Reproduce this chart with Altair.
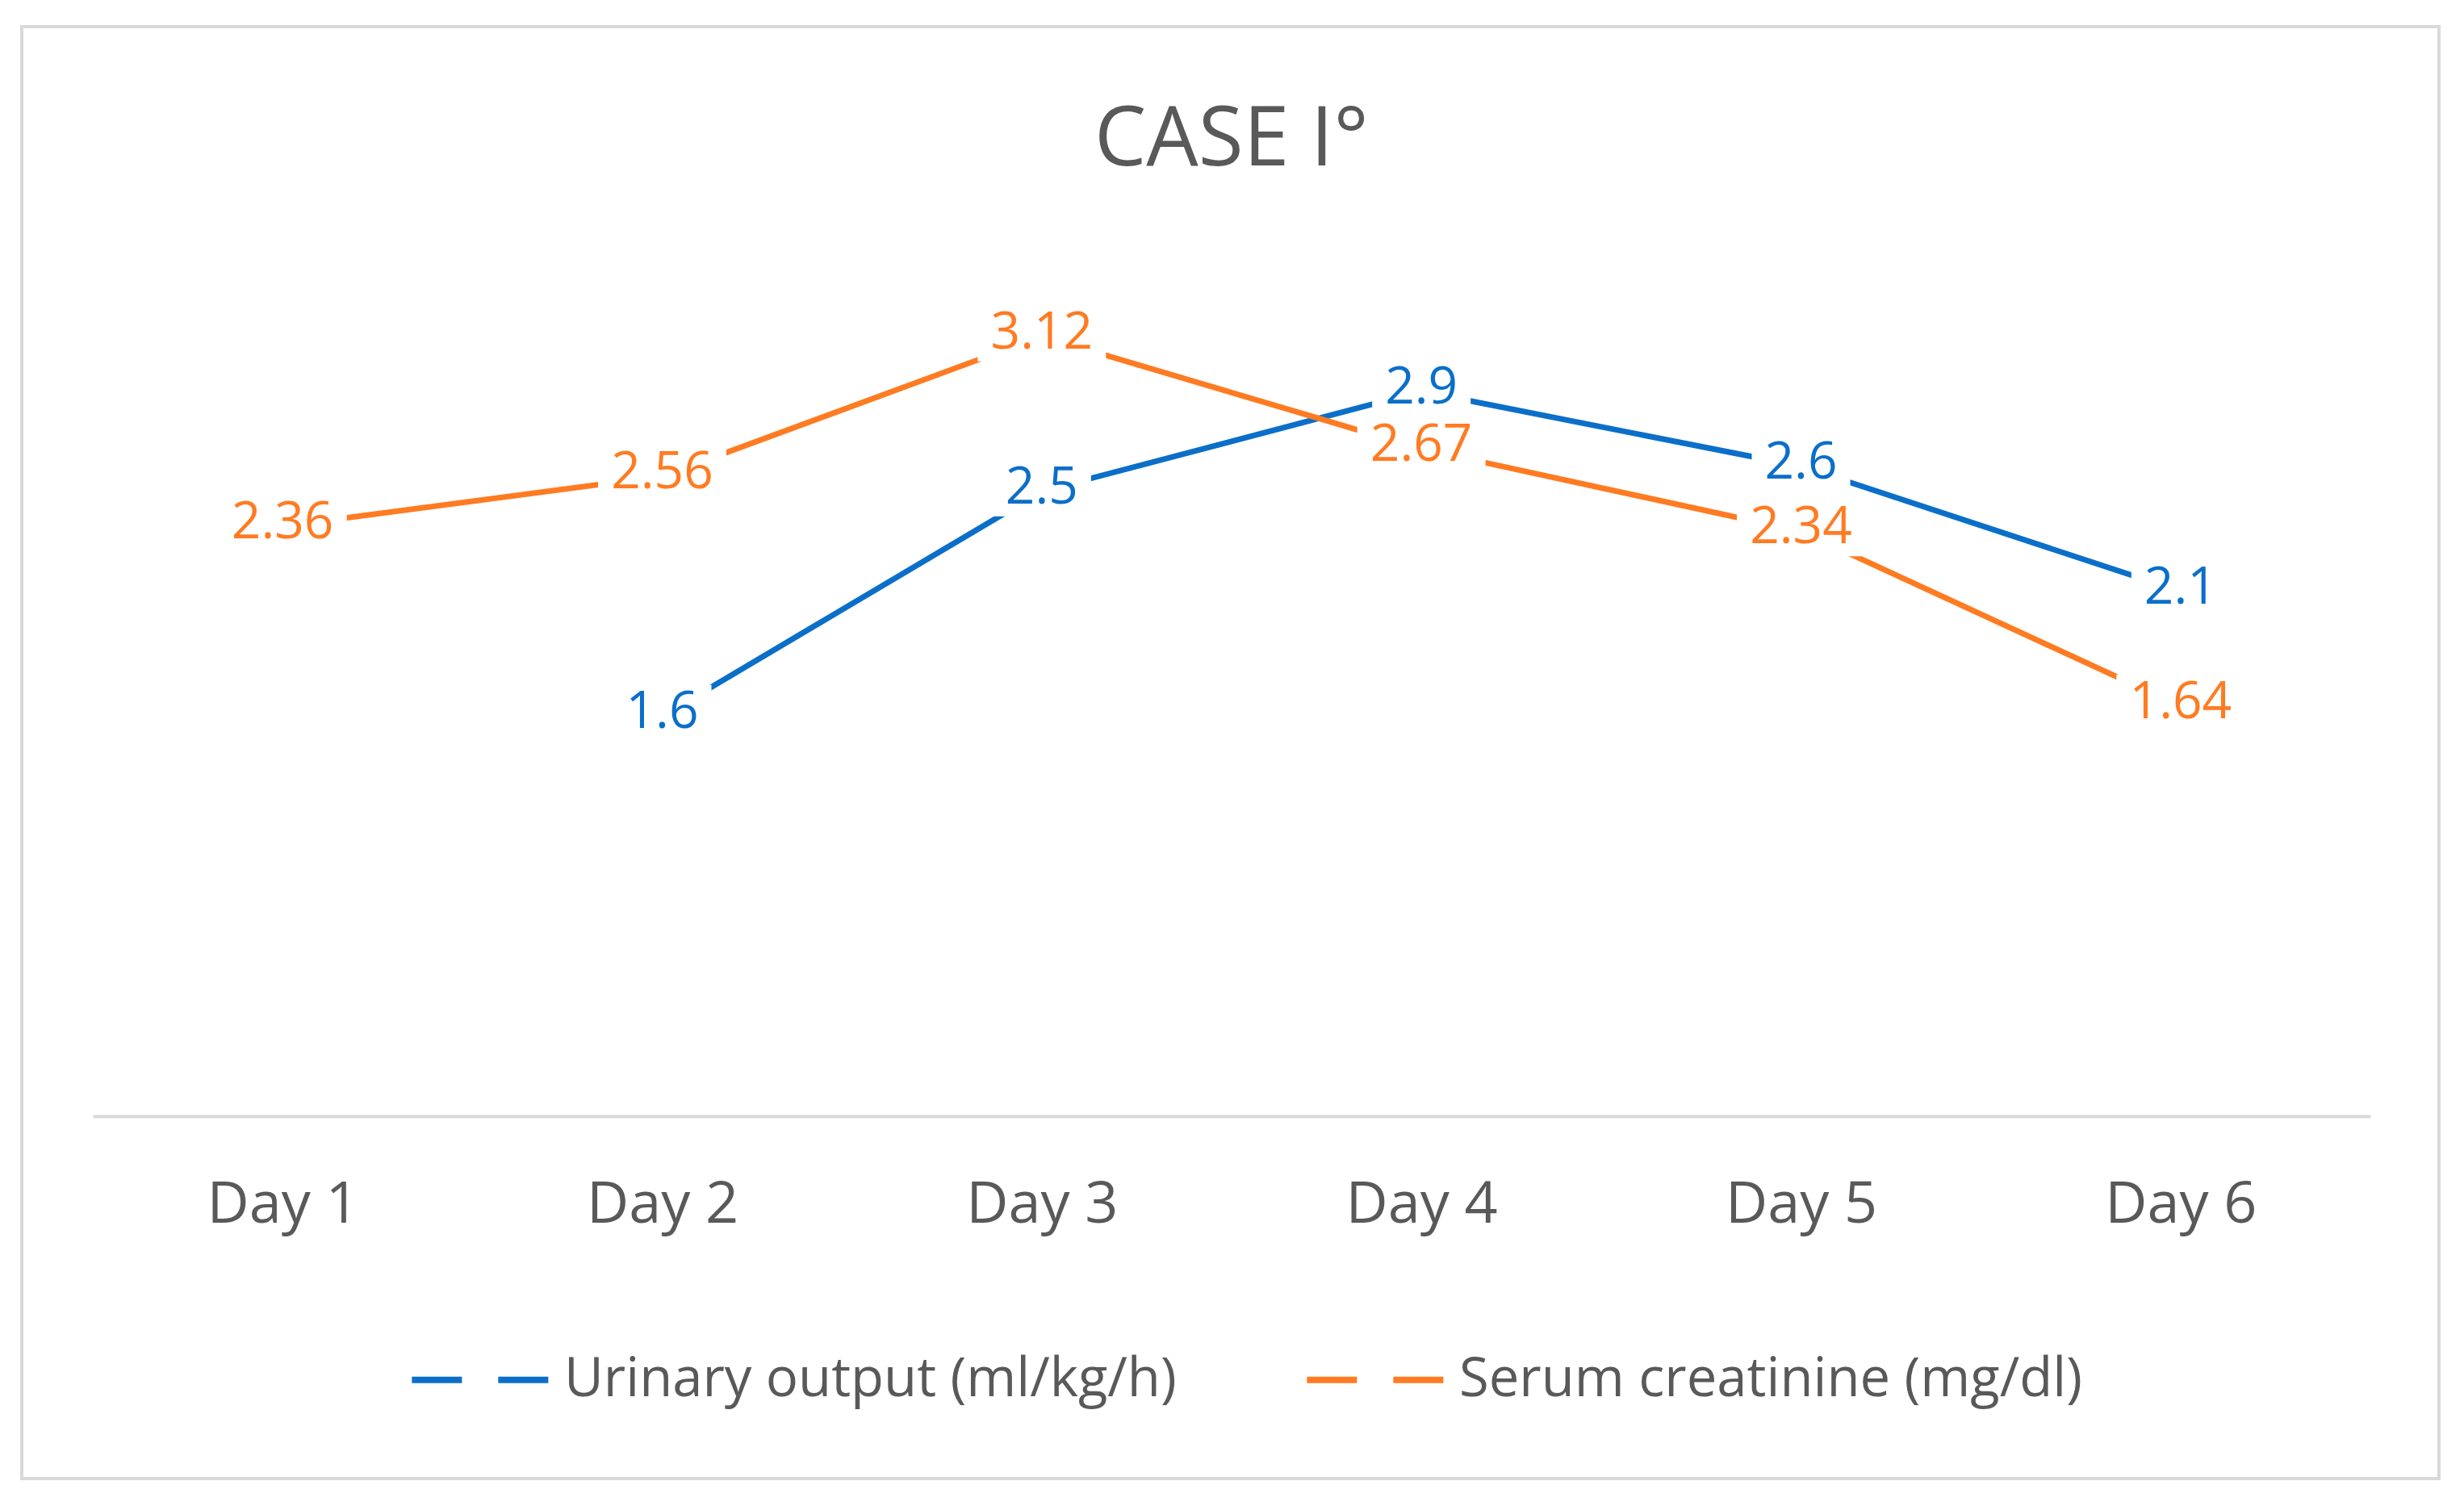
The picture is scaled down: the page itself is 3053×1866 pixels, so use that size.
import altair as alt
import pandas as pd

# ---- data ----
days = ["Day 1", "Day 2", "Day 3", "Day 4", "Day 5", "Day 6"]
urinary = [None, 1.6, 2.5, 2.9, 2.6, 2.1]
creatinine = [2.36, 2.56, 3.12, 2.67, 2.34, 1.64]
series_names = ["Urinary output (ml/kg/h)", "Serum creatinine (mg/dl)"]
series_colors = ["#0B6FC9", "#FF7B22"]
title_text = "CASE I°"

rows = []
for name, vals in zip(series_names, [urinary, creatinine]):
    for d, v in zip(days, vals):
        if v is not None:
            rows.append({"day": d, "value": v, "series": name, "label": f"{v:g}"})
df = pd.DataFrame(rows)

# ---- layout ----
FONT = "Open Sans"
GRAY = "#595959"
W, H = 2822, 1084
PAD_L, PAD_T = 107, 291
TOTAL_W, TOTAL_H = 3037, 1840
pad = {"left": PAD_L, "top": PAD_T, "right": TOTAL_W - PAD_L - W, "bottom": TOTAL_H - PAD_T - H}

x_enc = alt.X(
    "day:N",
    sort=days,
    scale=alt.Scale(type="point", padding=0.5, domain=days),
    axis=alt.Axis(
        title=None, labelAngle=0, labelFontSize=72, labelFont=FONT, labelColor=GRAY,
        ticks=False, tickSize=0, domainColor="#D9D9D9", domainWidth=4,
        labelPadding=131, labelBaseline="alphabetic", grid=False, labelLimit=1000,
    ),
)
y_enc = alt.Y("value:Q", scale=alt.Scale(domain=[0, 3.5]), axis=None)
color_enc = alt.Color(
    "series:N",
    scale=alt.Scale(domain=series_names, range=series_colors),
    legend=alt.Legend(
        orient="none", legendX=391, legendY=1321, direction="horizontal", title=None,
        symbolType="stroke", symbolSize=29000, symbolStrokeWidth=8, symbolDash=[62, 45],
        labelFontSize=67, labelFont=FONT, labelColor=GRAY, labelOffset=14,
        columnPadding=145, padding=0, labelLimit=2000,
    ),
)

base = alt.Chart(df)

lines = base.mark_line(strokeWidth=7).encode(x=x_enc, y=y_enc, color=color_enc, detail="series:N")

# white label backgrounds (like Excel data-label boxes) that cut the lines
box3 = "M-1.22,-0.78L1.22,-0.78L1.22,0.62L-1.22,0.62Z"
box4 = "M-1.59,-0.78L1.59,-0.78L1.59,0.62L-1.59,0.62Z"
boxes = (
    base.transform_calculate(len="length(datum.label)")
    .mark_point(filled=True, color="white", opacity=1, strokeWidth=0, size=10000)
    .encode(
        x=x_enc, y=y_enc,
        shape=alt.Shape("len:O", scale=alt.Scale(domain=[3, 4], range=[box3, box4]), legend=None),
    )
)

labels = base.mark_text(fontSize=64, font=FONT, baseline="middle", dy=-4).encode(
    x=x_enc, y=y_enc, text="label:N", color=color_enc
)

deco = pd.DataFrame({"k": [0]})
border = alt.Chart(deco).mark_rect(fill="transparent", stroke="#D9D9D9", strokeWidth=4).encode(
    x=alt.value(-88), x2=alt.value(2907), y=alt.value(-266), y2=alt.value(1533)
)
title = alt.Chart(deco).mark_text(
    text=title_text, fontSize=102, font=FONT, color=GRAY, align="center", baseline="alphabetic"
).encode(x=alt.value(W / 2), y=alt.value(205 - (PAD_T + 8)))

chart = (
    alt.layer(border, lines, boxes, labels, title)
    .resolve_legend(shape="independent")
    .properties(width=W, height=H, padding=pad, autosize=alt.AutoSizeParams(type="none"), background="white")
    .configure_view(strokeWidth=0)
)

chart.save("out.html", embed_options={"renderer": "svg", "actions": False})
